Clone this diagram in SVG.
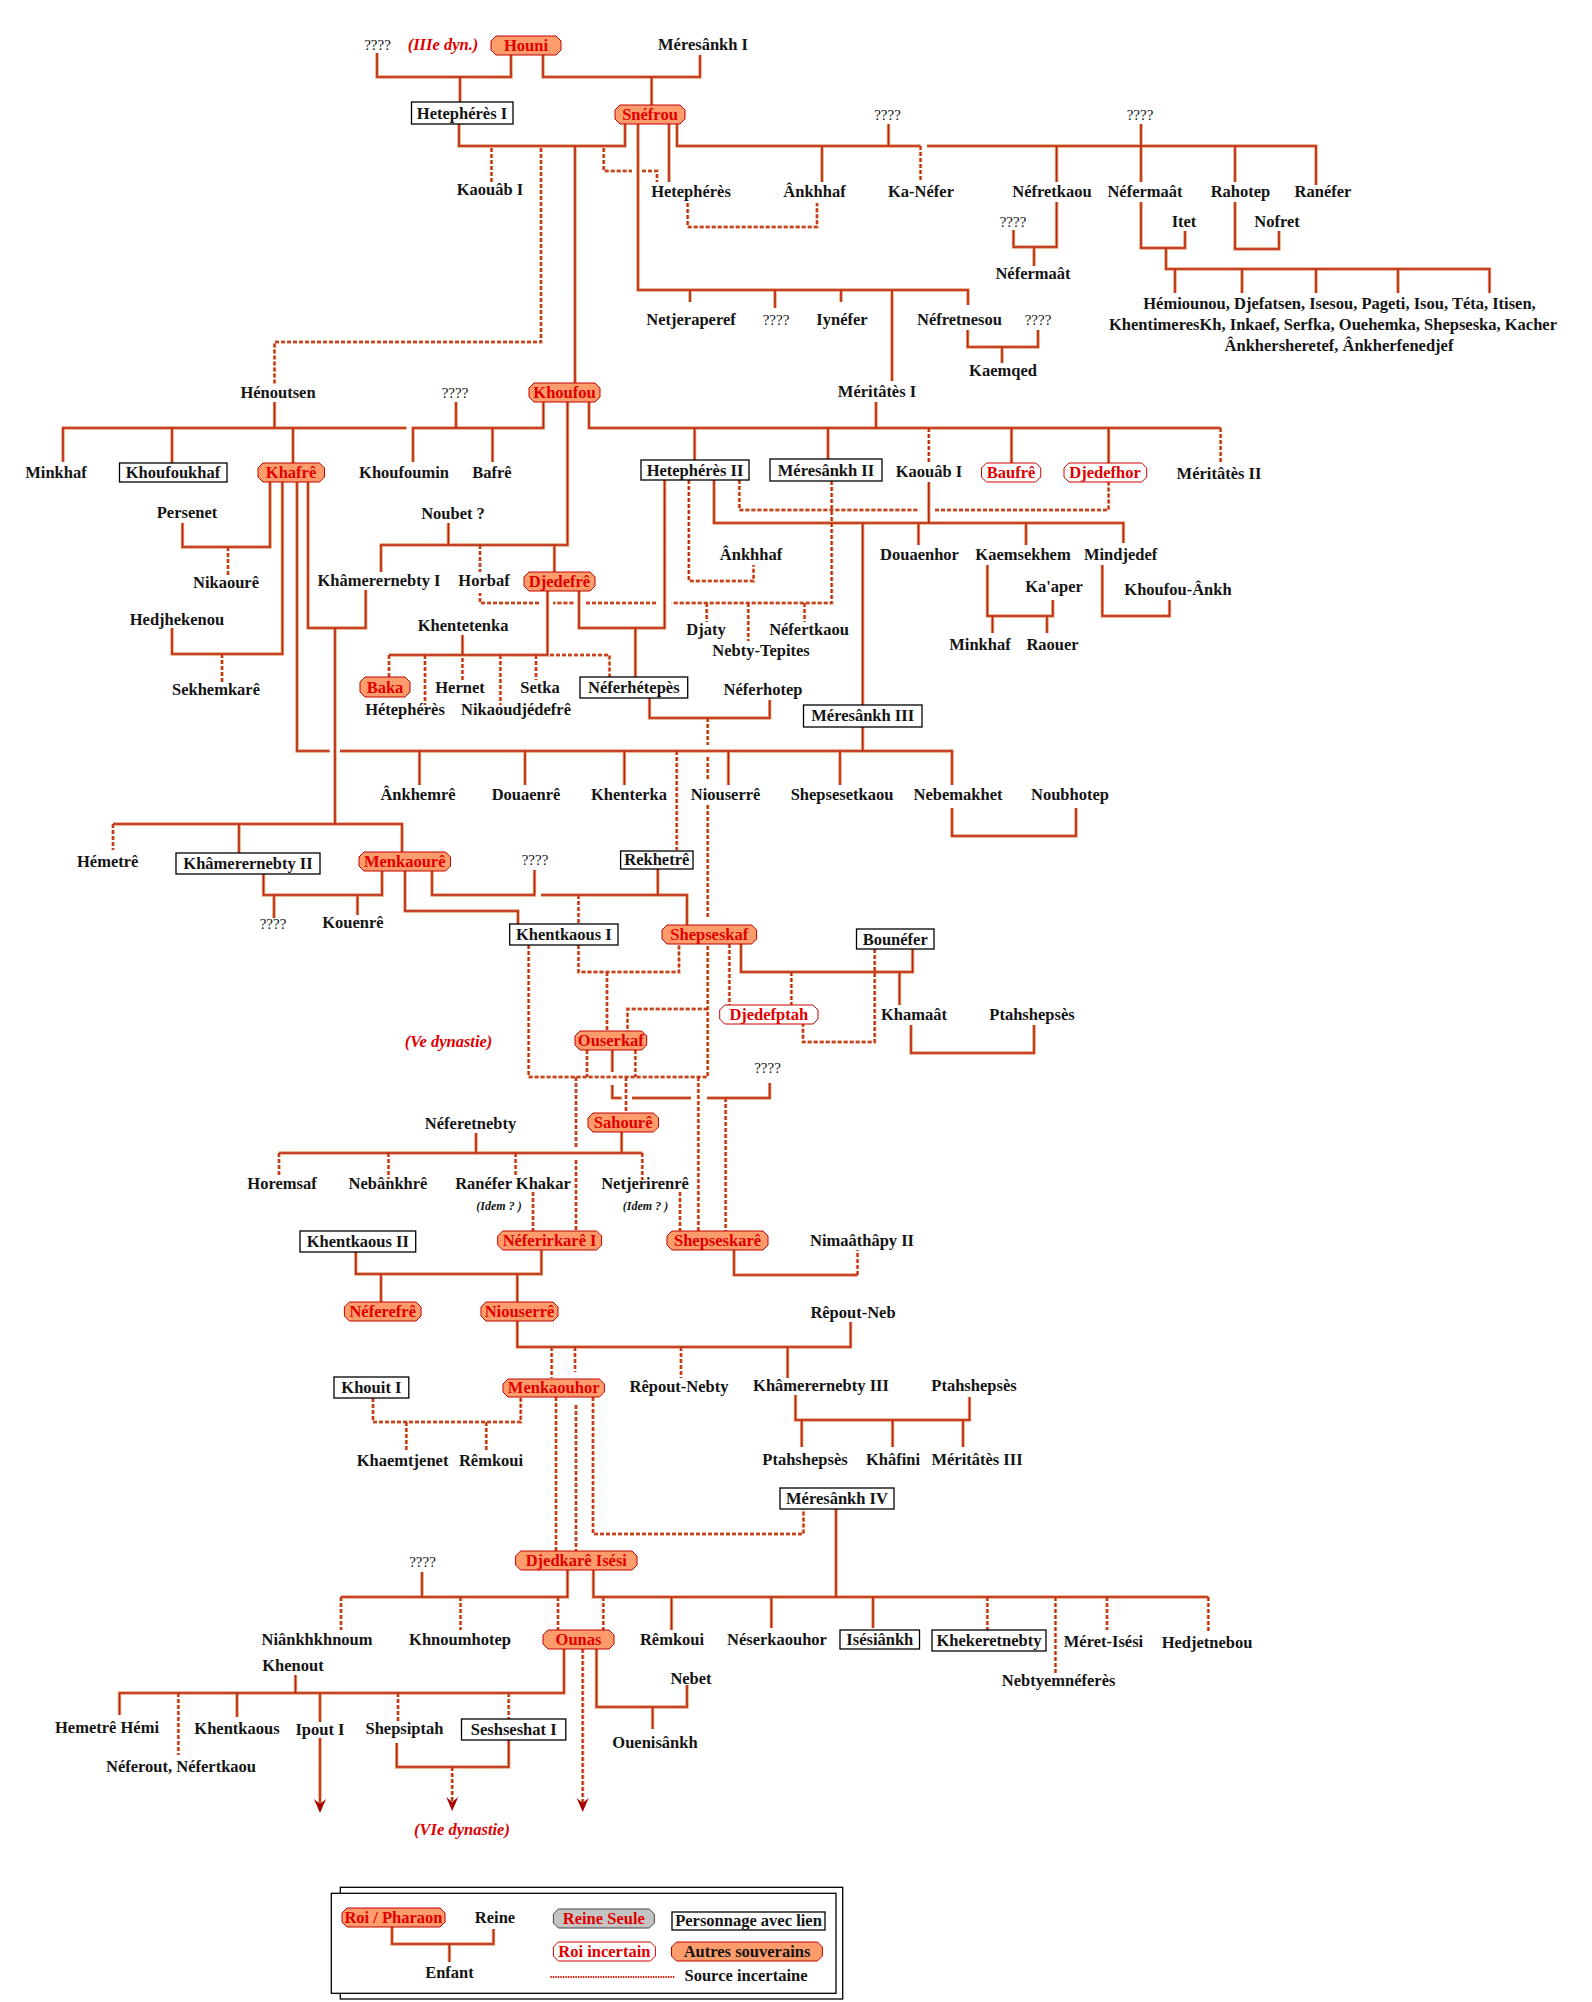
<svg xmlns="http://www.w3.org/2000/svg" xmlns:xlink="http://www.w3.org/1999/xlink" width="1592" height="2002" viewBox="0 0 1592 2002">
<style>
text{font-family:"Liberation Serif","DejaVu Serif",serif;font-size:16.5px;font-weight:bold;fill:#141414;text-anchor:middle}
.q{font-weight:normal;font-size:15px}
.r{fill:#e00000}
.dy{fill:#e00000;font-style:italic}
.id{font-style:italic;font-size:12px}
.bx{fill:#fff;stroke:#000;stroke-width:1.3}
.k{fill:#ff9c6c;stroke:#c00000;stroke-width:1}
.u{fill:#fff;stroke:#d00000;stroke-width:1}
.g{fill:#c4c4c4;stroke:#444;stroke-width:1}
.ar{fill:#a80000}
</style>
<rect width="1592" height="2002" fill="#fff"/>
<g id="connectors" fill="none">
<g stroke="#e2a070" stroke-width="3.4">
<path id="S" d="M377,53V77H511V55M460,77V102M543,55V77H700V55M651.6,77V105M459,124V146H625V124M575,146V383M638,124V290H968V305M690,290V302M775,290V308M841,290V302M892,290V381M669,124V182M677,124V146H920.5M927,146H1316V185M822,146V182M888.5,124V146M1056.6,146V182M1141,124V182M1235,146V182M1013.5,230V247H1056.6V202M1034,247V266M1141,202V248H1185V231M1166,248V269H1489.5V293M1175,269V293M1242,269V293M1316,269V293M1398,269V293M1235,202V249H1279V231M967.7,330V347H1038V330M1002,347V363M589,402V428H1220.6M876,402V428M694.6,428V460M828,428V459M1011.5,428V463M1108.6,428V463M274.5,402V428M63,462V428H406.4M172,428V463M293,428V463M456,402V428M413,462V428H543.4V402M492.5,428V462M567.5,402V545H381V572M554.4,545V572M448.4,523V545M270,482V547H182.5V523M282.4,482V654H172V628M297,482V751H329.6M340,751H952V785M862.7,727V751M419.5,751V785M525,751V785M624.4,751V785M728.4,751V785M840,751V785M308,482V628H365.7V590M335,628V824M113,824H402V852M239,824V853M263.5,874V895H382V871M274,895V918M357.5,895V915M432,871V895H534.5V870M405,871V911H518V924M541,895H687V925M657.8,869V895M579,591V628H664.6V480M635.4,628V677M547.5,591V655H389M462.5,635V655M714,480V523H1123.4V543M928.8,482V523M862.7,523V705M918.5,523V545M1026,523V545M987.4,565V616H1052.8V600M992.5,616V633M1047,616V633M1102.3,565V616H1169.5V600M649.5,698V718H769.7V700M952,808V836H1076V808M741,944V972H912.6V949M899.5,972V1005M911,1025V1053H1034V1025M612.3,1050V1072M612.3,1085V1098H621.6M632,1098H691M707,1098H769.7V1083M476,1133V1153M279,1153H642.3M621.6,1132V1153M355.8,1252V1274H541.4V1250M381,1274V1302M517.3,1274V1302M517.3,1321V1347H850.6V1322M787.6,1347V1378M734,1250V1275H857.5M795.5,1395V1420H969.5V1397M801.7,1420V1447M892.6,1420V1447M963,1420V1447M422,1572V1597M341,1597H567.5V1570M593.4,1570V1597H1208.3M836,1509V1597M671.5,1597V1630M771.4,1597V1628M873,1597V1628M564,1649V1693H119.5V1715M295.5,1675V1693M237,1693V1717M320,1693V1722M320,1738V1806M396.7,1743V1767H508.7V1740M596.5,1649V1707H687V1685M652.6,1707V1729"/>
<path id="D" stroke-dasharray="4 2" d="M491.5,148V183M541,148V342H274.5V385M603.7,148V171H632M642,171H657V182M687.7,203V227H817V203M920.5,146V182M1220.6,428V462M928.8,428V462M739.4,480V510H919.5M935,510H1108.6V482M688.8,480V581H753.5V565M831.7,481V603H671.5M656,603H585.4M573.4,603H553M539,603H480V593M480,545V572M706.7,603V622M748.3,603V641M804.5,603V622M389,655V677M425,655V705M462.5,658V680M500.4,655V705M536,655V680M550,655H609.5V677M228,547V577M222,654V684M707.7,718V745M707.7,757V780M707.7,805V917M676.7,751V850M113,824V850M578.5,895V924M578.5,945V972H679V944M607,972V1031M528.6,945V1077H707.7V944M729.4,944V1005M791.4,972V1005M874.7,949V1042H803V1024M707.7,1009H627.5V1031M587,1050V1077M635.4,1050V1077M626,1077V1113M698.4,1077V1231M725.6,1098V1231M576,1077V1147M576,1160V1231M279,1153V1177M388.5,1153V1179M515.6,1153V1176M642.3,1153V1180M533,1192V1231M680,1192V1231M857.5,1275V1250M551.7,1347V1378M575,1347V1372M681,1347V1378M373,1398V1422H520.7V1397M406.4,1422V1450M486.3,1422V1450M556,1397V1551M576,1405V1551M593,1397V1534H803.5V1509M341,1597V1630M460.5,1597V1630M558,1597V1630M603.3,1597V1630M987.4,1597V1630M1055.5,1597V1675M1107,1597V1630M1208.3,1597V1632M178.4,1693V1755M398,1693V1722M508.7,1693V1719M452.2,1767V1804M582.7,1649V1805"/>
</g>
<g stroke="#bc2410" stroke-width="1.6">
<use href="#S" xlink:href="#S"/>
<use href="#D" xlink:href="#D"/>
</g>
<polygon class="ar" points="320,1813 314,1799 320,1804 326,1799"/>
<polygon class="ar" points="452.2,1811 446.2,1797 452.2,1802 458.2,1797"/>
<polygon class="ar" points="582.7,1812 576.7,1798 582.7,1803 588.7,1798"/>
</g>
<g id="n_q1"><text class="q" x="377.5" y="50">????</text></g>
<g id="l_dyn3"><text class="dy" x="443" y="50">(IIIe dyn.)</text></g>
<g id="n_houni"><polygon class="k" points="496,36 556,36 561,41 561,50 556,55 496,55 491,50 491,41"/><text class="r" x="526" y="51">Houni</text></g>
<g id="n_meresankh1"><text x="703" y="50">Méresânkh I</text></g>
<g id="n_hetepheres1"><rect class="bx" x="411.5" y="102" width="101.5" height="22"/><text x="462" y="118.5">Hetephérès I</text></g>
<g id="n_snefrou"><polygon class="k" points="620,105 680,105 685,110 685,119 680,124 620,124 615,119 615,110"/><text class="r" x="650" y="120">Snéfrou</text></g>
<g id="n_q2"><text class="q" x="887.5" y="120">????</text></g>
<g id="n_q3"><text class="q" x="1140" y="120">????</text></g>
<g id="n_kaouab1a"><text x="490" y="195">Kaouâb I</text></g>
<g id="n_hetepheres"><text x="691" y="197">Hetephérès</text></g>
<g id="n_ankhhaf1"><text x="814.5" y="197">Ânkhhaf</text></g>
<g id="n_kanefer"><text x="921" y="197">Ka-Néfer</text></g>
<g id="n_nefretkaou"><text x="1052" y="197">Néfretkaou</text></g>
<g id="n_nefermaat1"><text x="1145" y="197">Néfermaât</text></g>
<g id="n_rahotep"><text x="1240.5" y="197">Rahotep</text></g>
<g id="n_ranefer"><text x="1323" y="197">Ranéfer</text></g>
<g id="n_q4"><text class="q" x="1013" y="227">????</text></g>
<g id="n_itet"><text x="1184" y="227">Itet</text></g>
<g id="n_nofret"><text x="1277" y="227">Nofret</text></g>
<g id="n_nefermaat2"><text x="1033" y="279">Néfermaât</text></g>
<g id="n_netjeraperef"><text x="691" y="325">Netjeraperef</text></g>
<g id="n_q5"><text class="q" x="776" y="325">????</text></g>
<g id="n_iynefer"><text x="842" y="325">Iynéfer</text></g>
<g id="n_nefretnesou"><text x="959.5" y="325">Néfretnesou</text></g>
<g id="n_q6"><text class="q" x="1038" y="325">????</text></g>
<g id="n_kaemqed"><text x="1003" y="376">Kaemqed</text></g>
<g id="n_enfants_itet"><text x="1339.5" y="309">Hémiounou, Djefatsen, Isesou, Pageti, Isou, Téta, Itisen,</text><text x="1333" y="330">KhentimeresKh, Inkaef, Serfka, Ouehemka, Shepseska, Kacher</text><text x="1339" y="351">Ânkhersheretef, Ânkherfenedjef</text></g>
<g id="n_henoutsen"><text x="278" y="398">Hénoutsen</text></g>
<g id="n_q7"><text class="q" x="455" y="398">????</text></g>
<g id="n_khoufou"><polygon class="k" points="534,383 595,383 600,388 600,397 595,402 534,402 529,397 529,388"/><text class="r" x="564.5" y="398">Khoufou</text></g>
<g id="n_meritates1"><text x="877" y="397">Méritâtès I</text></g>
<g id="n_minkhaf1"><text x="56" y="478">Minkhaf</text></g>
<g id="n_khoufoukhaf"><rect class="bx" x="119.5" y="463" width="107.5" height="19"/><text x="173" y="478">Khoufoukhaf</text></g>
<g id="n_khafre"><polygon class="k" points="263,463 319.5,463 324.5,468 324.5,477 319.5,482 263,482 258,477 258,468"/><text class="r" x="291" y="478">Khafrê</text></g>
<g id="n_khoufoumin"><text x="404" y="478">Khoufoumin</text></g>
<g id="n_bafre"><text x="492" y="478">Bafrê</text></g>
<g id="n_hetepheres2"><rect class="bx" x="641" y="460" width="108" height="20"/><text x="695" y="475.5">Hetephérès II</text></g>
<g id="n_meresankh2"><rect class="bx" x="770" y="459" width="112" height="22"/><text x="826" y="475.5">Méresânkh II</text></g>
<g id="n_kaouab1b"><text x="929" y="477">Kaouâb I</text></g>
<g id="n_baufre"><polygon class="u" points="986.5,463 1035.7,463 1040.7,468 1040.7,477 1035.7,482 986.5,482 981.5,477 981.5,468"/><text class="r" x="1011" y="478">Baufrê</text></g>
<g id="n_djedefhor"><polygon class="u" points="1069,463 1141.7,463 1146.7,468 1146.7,477 1141.7,482 1069,482 1064,477 1064,468"/><text class="r" x="1105" y="478">Djedefhor</text></g>
<g id="n_meritates2"><text x="1219" y="479">Méritâtès II</text></g>
<g id="n_persenet"><text x="187" y="518">Persenet</text></g>
<g id="n_noubet"><text x="453" y="519">Noubet ?</text></g>
<g id="n_nikaoure"><text x="226" y="588">Nikaourê</text></g>
<g id="n_khamerernebty1"><text x="379" y="586">Khâmerernebty I</text></g>
<g id="n_horbaf"><text x="484" y="586">Horbaf</text></g>
<g id="n_djedefre"><polygon class="k" points="529,572 590,572 595,577 595,586 590,591 529,591 524,586 524,577"/><text class="r" x="559.5" y="587">Djedefrê</text></g>
<g id="n_ankhhaf2"><text x="751" y="560">Ânkhhaf</text></g>
<g id="n_douaenhor"><text x="919.5" y="560">Douaenhor</text></g>
<g id="n_kaemsekhem"><text x="1023" y="560">Kaemsekhem</text></g>
<g id="n_mindjedef"><text x="1120.6" y="560">Mindjedef</text></g>
<g id="n_kaaper"><text x="1054" y="592">Ka'aper</text></g>
<g id="n_khoufouankh"><text x="1178" y="595">Khoufou-Ânkh</text></g>
<g id="n_hedjhekenou"><text x="177" y="625">Hedjhekenou</text></g>
<g id="n_khentetenka"><text x="463" y="631">Khentetenka</text></g>
<g id="n_djaty"><text x="706" y="635">Djaty</text></g>
<g id="n_nefertkaou1"><text x="809" y="635">Néfertkaou</text></g>
<g id="n_nebtytepites"><text x="761" y="656">Nebty-Tepites</text></g>
<g id="n_minkhaf2"><text x="980" y="650">Minkhaf</text></g>
<g id="n_raouer"><text x="1052.5" y="650">Raouer</text></g>
<g id="n_baka"><polygon class="k" points="365,677 405,677 410,682 410,692 405,697 365,697 360,692 360,682"/><text class="r" x="385" y="692.5">Baka</text></g>
<g id="n_hernet"><text x="460" y="693">Hernet</text></g>
<g id="n_setka"><text x="540" y="693">Setka</text></g>
<g id="n_neferhetepes"><rect class="bx" x="580" y="677" width="107.7" height="21"/><text x="633.8" y="693">Néferhétepès</text></g>
<g id="n_neferhotep"><text x="763" y="695">Néferhotep</text></g>
<g id="n_sekhemkare"><text x="216" y="695">Sekhemkarê</text></g>
<g id="n_hetepheres3"><text x="405" y="715">Hétephérès</text></g>
<g id="n_nikaoudjedefre"><text x="516" y="715">Nikaoudjédefrê</text></g>
<g id="n_meresankh3"><rect class="bx" x="803.5" y="705" width="118.5" height="22"/><text x="862.7" y="721">Méresânkh III</text></g>
<g id="n_ankhemre"><text x="418" y="800">Ânkhemrê</text></g>
<g id="n_douaenre"><text x="526" y="800">Douaenrê</text></g>
<g id="n_khenterka"><text x="629" y="800">Khenterka</text></g>
<g id="n_niouserre1"><text x="725.6" y="800">Niouserrê</text></g>
<g id="n_shepsesetkaou"><text x="842" y="800">Shepsesetkaou</text></g>
<g id="n_nebemakhet"><text x="958" y="800">Nebemakhet</text></g>
<g id="n_noubhotep"><text x="1070" y="800">Noubhotep</text></g>
<g id="n_hemetre"><text x="107.7" y="867">Hémetrê</text></g>
<g id="n_khamerernebty2"><rect class="bx" x="176" y="853" width="144" height="21"/><text x="248" y="869">Khâmerernebty II</text></g>
<g id="n_menkaoure"><polygon class="k" points="364,852 445.5,852 450.5,857 450.5,866 445.5,871 364,871 359,866 359,857"/><text class="r" x="404.7" y="867">Menkaourê</text></g>
<g id="n_q8"><text class="q" x="535" y="865">????</text></g>
<g id="n_rekhetre"><rect class="bx" x="620.6" y="851" width="72.4" height="18"/><text x="656.8" y="865">Rekhetrê</text></g>
<g id="n_q9"><text class="q" x="273" y="929">????</text></g>
<g id="n_kouenre"><text x="353" y="928">Kouenrê</text></g>
<g id="n_khentkaous1"><rect class="bx" x="509.7" y="924" width="108.3" height="21"/><text x="563.8" y="940">Khentkaous I</text></g>
<g id="n_shepseskaf"><polygon class="k" points="667,925 751.6,925 756.6,930 756.6,939 751.6,944 667,944 662,939 662,930"/><text class="r" x="709.3" y="940">Shepseskaf</text></g>
<g id="n_bounefer"><rect class="bx" x="856.5" y="929" width="77.5" height="20"/><text x="895.2" y="944.5">Bounéfer</text></g>
<g id="n_djedefptah"><polygon class="u" points="724.7,1005 813,1005 818,1010 818,1019 813,1024 724.7,1024 719.7,1019 719.7,1010"/><text class="r" x="768.8" y="1020">Djedefptah</text></g>
<g id="n_khamaat"><text x="914" y="1020">Khamaât</text></g>
<g id="n_ptahshepses1"><text x="1032" y="1020">Ptahshepsès</text></g>
<g id="l_dyn5"><text class="dy" x="448.6" y="1047">(Ve dynastie)</text></g>
<g id="n_ouserkaf"><polygon class="k" points="580,1031 641.7,1031 646.7,1036 646.7,1045 641.7,1050 580,1050 575,1045 575,1036"/><text class="r" x="610.8" y="1046">Ouserkaf</text></g>
<g id="n_q10"><text class="q" x="767.5" y="1073">????</text></g>
<g id="n_sahoure"><polygon class="k" points="593,1113 653.5,1113 658.5,1118 658.5,1127 653.5,1132 593,1132 588,1127 588,1118"/><text class="r" x="623.2" y="1128">Sahourê</text></g>
<g id="n_neferetnebty"><text x="470.5" y="1129">Néferetnebty</text></g>
<g id="n_horemsaf"><text x="282" y="1189">Horemsaf</text></g>
<g id="n_nebankhre"><text x="388" y="1189">Nebânkhrê</text></g>
<g id="n_raneferkhakar"><text x="513" y="1189">Ranéfer Khakar</text><text class="id" x="499" y="1210">(Idem ? )</text></g>
<g id="n_netjerirenre"><text x="645" y="1189">Netjerirenrê</text><text class="id" x="645.5" y="1210">(Idem ? )</text></g>
<g id="n_khentkaous2"><rect class="bx" x="300" y="1231" width="115.7" height="21"/><text x="357.8" y="1247">Khentkaous II</text></g>
<g id="n_neferirkare"><polygon class="k" points="502.7,1231 596.6,1231 601.6,1236 601.6,1245 596.6,1250 502.7,1250 497.7,1245 497.7,1236"/><text class="r" x="549.6" y="1246">Néferirkarê I</text></g>
<g id="n_shepseskare"><polygon class="k" points="672,1231 763,1231 768,1236 768,1245 763,1250 672,1250 667,1245 667,1236"/><text class="r" x="717.5" y="1246">Shepseskarê</text></g>
<g id="n_nimaathapy"><text x="862" y="1246">Nimaâthâpy II</text></g>
<g id="n_neferefre"><polygon class="k" points="349.4,1302 416,1302 421,1307 421,1316 416,1321 349.4,1321 344.4,1316 344.4,1307"/><text class="r" x="382.7" y="1317">Néferefrê</text></g>
<g id="n_niouserre2"><polygon class="k" points="486,1302 553,1302 558,1307 558,1316 553,1321 486,1321 481,1316 481,1307"/><text class="r" x="519.5" y="1317">Niouserrê</text></g>
<g id="n_repoutneb"><text x="853" y="1318">Rêpout-Neb</text></g>
<g id="n_khouit"><rect class="bx" x="334" y="1377" width="74.8" height="21"/><text x="371.4" y="1393">Khouit I</text></g>
<g id="n_menkaouhor"><polygon class="k" points="508,1379 599.4,1379 604.4,1384 604.4,1392 599.4,1397 508,1397 503,1392 503,1384"/><text class="r" x="553.7" y="1393">Menkaouhor</text></g>
<g id="n_repoutnebty"><text x="679" y="1392">Rêpout-Nebty</text></g>
<g id="n_khamerernebty3"><text x="821" y="1391">Khâmerernebty III</text></g>
<g id="n_ptahshepses2"><text x="974" y="1391">Ptahshepsès</text></g>
<g id="n_khaemtjenet"><text x="402.6" y="1466">Khaemtjenet</text></g>
<g id="n_remkoui1"><text x="491" y="1466">Rêmkoui</text></g>
<g id="n_ptahshepses3"><text x="805" y="1465">Ptahshepsès</text></g>
<g id="n_khafini"><text x="893" y="1465">Khâfini</text></g>
<g id="n_meritates3"><text x="977" y="1465">Méritâtès III</text></g>
<g id="n_meresankh4"><rect class="bx" x="780" y="1488" width="114" height="21"/><text x="837" y="1504">Méresânkh IV</text></g>
<g id="n_q11"><text class="q" x="422.5" y="1567">????</text></g>
<g id="n_djedkare"><polygon class="k" points="520.6,1551 632,1551 637,1556 637,1565 632,1570 520.6,1570 515.6,1565 515.6,1556"/><text class="r" x="576.3" y="1566">Djedkarê Isési</text></g>
<g id="n_niankhkhnoum"><text x="317" y="1645">Niânkhkhnoum</text></g>
<g id="n_khnoumhotep"><text x="460" y="1645">Khnoumhotep</text></g>
<g id="n_ounas"><polygon class="k" points="548,1630 609,1630 614,1635 614,1644 609,1649 548,1649 543,1644 543,1635"/><text class="r" x="578.5" y="1645">Ounas</text></g>
<g id="n_remkoui2"><text x="672" y="1645">Rêmkoui</text></g>
<g id="n_neserkaouhor"><text x="777" y="1645">Néserkaouhor</text></g>
<g id="n_isesiankh"><rect class="bx" x="840" y="1630" width="79.5" height="19"/><text x="879.8" y="1645">Isésiânkh</text></g>
<g id="n_khekeretnebty"><rect class="bx" x="932" y="1630" width="114" height="21"/><text x="989" y="1646">Khekeretnebty</text></g>
<g id="n_meretisesi"><text x="1103.5" y="1647">Méret-Isési</text></g>
<g id="n_hedjetnebou"><text x="1207" y="1648">Hedjetnebou</text></g>
<g id="n_khenout"><text x="293" y="1671">Khenout</text></g>
<g id="n_nebet"><text x="691" y="1684">Nebet</text></g>
<g id="n_nebtyemneferes"><text x="1058.6" y="1686">Nebtyemnéferès</text></g>
<g id="n_hemetrehemi"><text x="107" y="1733">Hemetrê Hémi</text></g>
<g id="n_khentkaous"><text x="237" y="1734">Khentkaous</text></g>
<g id="n_ipout"><text x="320" y="1735">Ipout I</text></g>
<g id="n_shepsiptah"><text x="404.5" y="1734">Shepsiptah</text></g>
<g id="n_seshseshat"><rect class="bx" x="461.5" y="1719" width="104.3" height="21"/><text x="513.7" y="1735">Seshseshat I</text></g>
<g id="n_ouenisankh"><text x="655" y="1748">Ouenisânkh</text></g>
<g id="n_neferout"><text x="181" y="1772">Néferout, Néfertkaou</text></g>
<g id="l_dyn6"><text class="dy" x="462" y="1835">(VIe dynastie)</text></g>
<g id="legend">
<rect x="340.3" y="1887.3" width="502.4" height="111.7" fill="#fff" stroke="#000" stroke-width="1.3"/>
<rect x="331.3" y="1893.3" width="504.7" height="100" fill="#fff" stroke="#000" stroke-width="1.3"/>
<path d="M392,1927V1944H493.5V1929M449.4,1944V1962" fill="none" stroke="#e2a070" stroke-width="3.4"/>
<path d="M392,1927V1944H493.5V1929M449.4,1944V1962" fill="none" stroke="#bc2410" stroke-width="1.6"/>
<path d="M550.3,1977H675" stroke="#d02010" stroke-width="2" stroke-dasharray="1.5 1"/>
<polygon class="k" points="347,1908 440,1908 445,1913 445,1922 440,1927 347,1927 342,1922 342,1913"/><text class="r" x="393.5" y="1923">Roi / Pharaon</text>
<text x="495" y="1923">Reine</text>
<text x="449.5" y="1978">Enfant</text>
<polygon class="g" points="558.4,1909 649.3,1909 654.3,1914 654.3,1923 649.3,1928 558.4,1928 553.4,1923 553.4,1914"/><text class="r" x="603.8" y="1924">Reine Seule</text>
<rect class="bx" x="672" y="1912" width="153" height="18"/><text x="748.5" y="1926">Personnage avec lien</text>
<polygon class="u" points="558.4,1942 650.4,1942 655.4,1947 655.4,1956 650.4,1961 558.4,1961 553.4,1956 553.4,1947"/><text class="r" x="604.4" y="1957">Roi incertain</text>
<polygon class="k" points="676.5,1942 817.4,1942 822.4,1947 822.4,1956 817.4,1961 676.5,1961 671.5,1956 671.5,1947"/><text x="747" y="1957">Autres souverains</text>
<text x="746" y="1981">Source incertaine</text>
</g>
</svg>
